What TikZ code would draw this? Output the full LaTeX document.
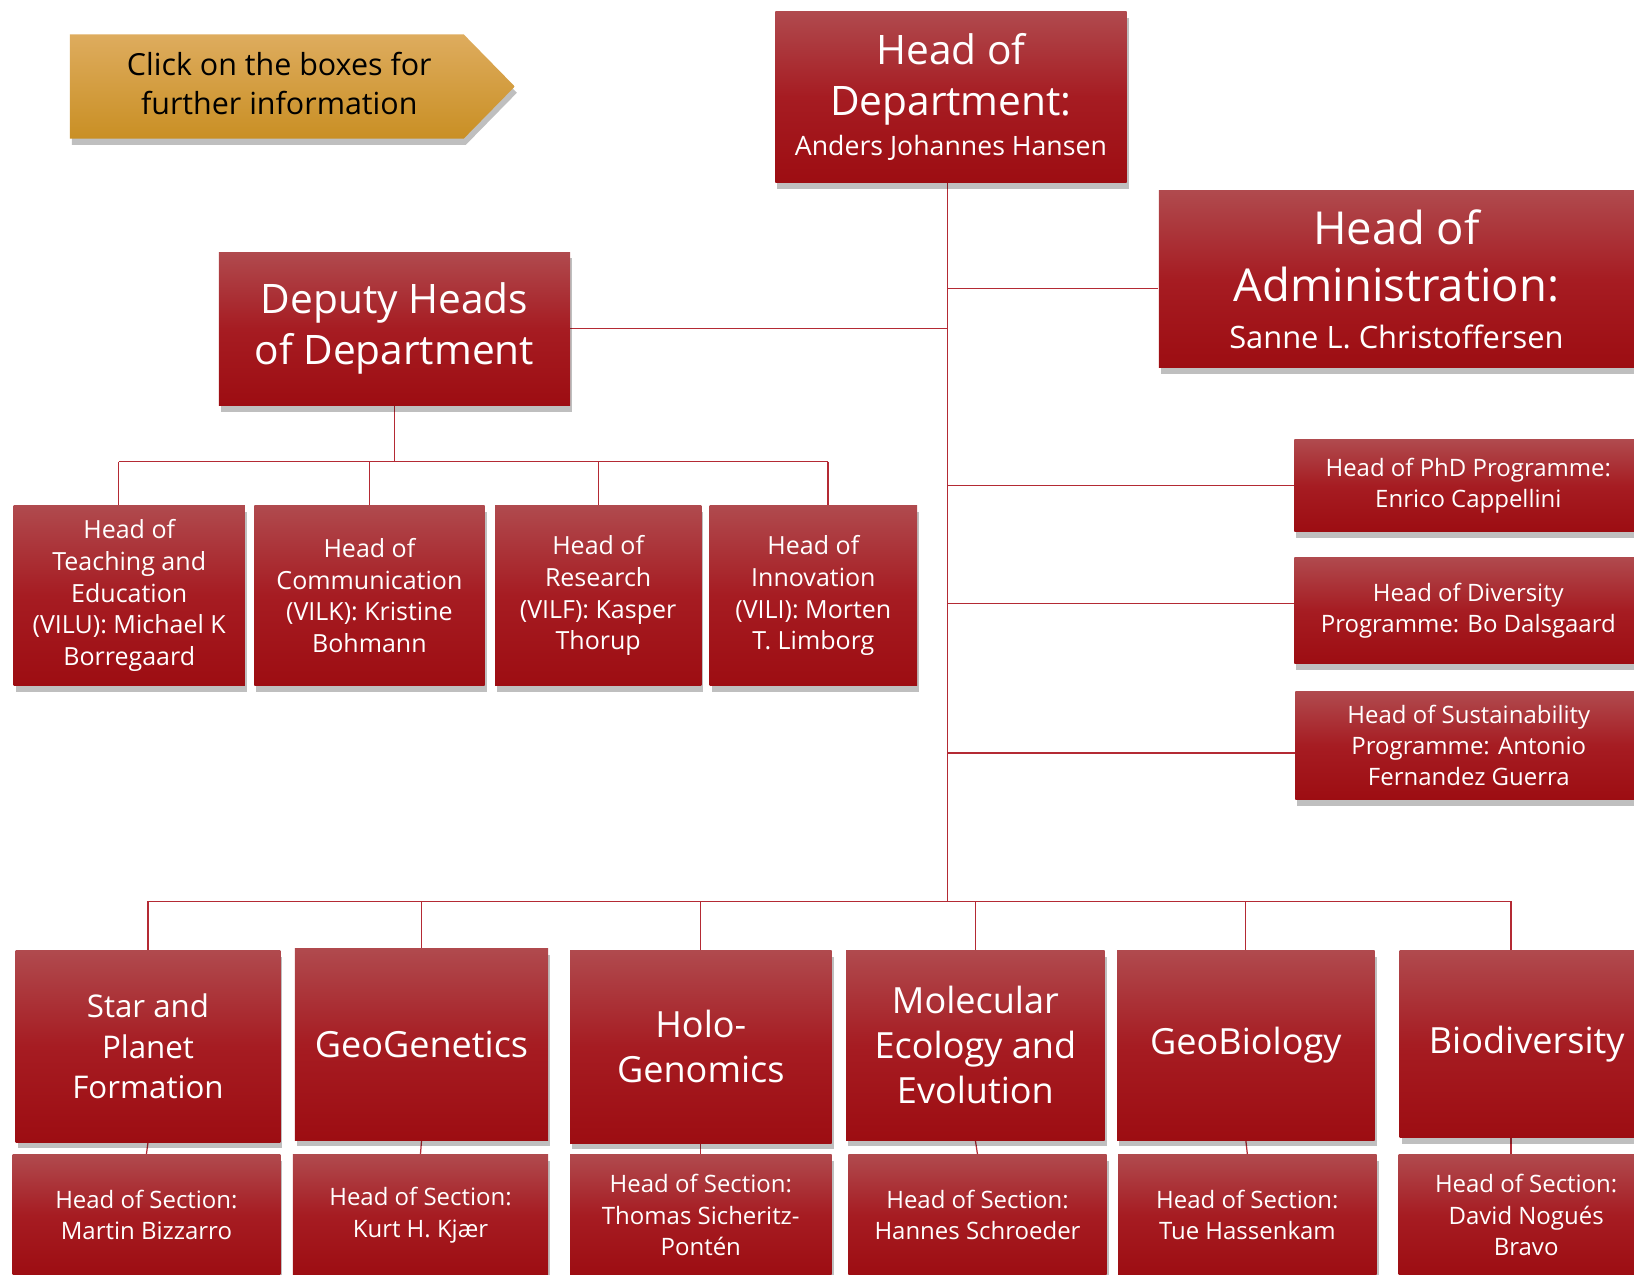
\documentclass[tikz,border=0pt]{standalone}
\usepackage{fontspec}
\setmainfont{Open Sans}
\usetikzlibrary{shadows}
\definecolor{rtop}{RGB}{176,74,78}
\definecolor{rmid}{RGB}{166,28,34}
\definecolor{rbot}{RGB}{157,13,18}
\definecolor{gtop}{RGB}{222,172,94}
\definecolor{gbot}{RGB}{201,143,36}
\definecolor{lnk}{RGB}{180,42,52}
\pgfdeclarelayer{background}
\pgfsetlayers{background,main}
\newcommand\fs[2]{\fontsize{#1}{#2}\selectfont}
\begin{document}
\begin{tikzpicture}[x=0.5pt,y=-0.5pt,
  rbox/.style={inner sep=0pt, top color=rtop, bottom color=rbot, middle color=rmid,
    text=white, align=center,
    drop shadow={shadow xshift=1pt, shadow yshift=-3pt, opacity=0.25, fill=black}},
  bx/.style 2 args={minimum width=#1, minimum height=#2},
  gold/.style={top color=gtop, bottom color=gbot,
    drop shadow={shadow xshift=1pt, shadow yshift=-3pt, opacity=0.25, fill=black}},
  link/.style={draw=lnk, line width=0.6pt},
  big/.style={font=\fs{19.5}{24.5}},
  mid/.style={font=\fs{12}{15.25}},
  sec/.style={font=\fs{17.3}{21.5}},
  small/.style={font=\fs{11.5}{15}},
]
\useasboundingbox (0,0) rectangle (1568,1223);

% note arrow
\path[gold] (67,33) -- (445,33) -- (494,83) -- (445,133) -- (67,133) -- cycle;
\node[align=center, font=\fs{14.6}{18.5}] (note) at (268,80) {Click on the boxes for\\further information};

% top level
\node[rbox, bx={168.5pt}{82pt}, big] (hod) at (912.5,93)
  {Head of\\Department:\\[-5pt]{\fs{12.8}{16}Anders Johannes Hansen}};
\node[rbox, bx={228pt}{85pt}, font=\fs{21.8}{27.5}] (adm) at (1340,268)
  {Head of\\Administration:\\[-5pt]{\fs{14.8}{18}Sanne L. Christoffersen}};
\node[rbox, bx={168.5pt}{73.5pt}, big] (dep) at (378.5,315.5) {Deputy Heads\\of Department};

% deputies
\node[rbox, bx={111pt}{86.5pt}, mid] (tea) at (124,571.5) {Head of\\Teaching and\\Education\\(VILU): Michael K\\Borregaard};
\node[rbox, bx={110.5pt}{86.5pt}, mid] (com) at (354.5,571.5) {Head of\\Communication\\(VILK): Kristine\\Bohmann};
\node[rbox, bx={99pt}{86.5pt}, mid] (res) at (574,571.5) {Head of\\Research\\(VILF): Kasper\\Thorup};
\node[rbox, bx={99.5pt}{86.5pt}, mid] (inn) at (780.5,571.5) {Head of\\Innovation\\(VILI): Morten\\T. Limborg};

% programmes
\node[rbox, bx={167pt}{44pt}, small] (phd) at (1409,466) {Head of PhD Programme:\\Enrico Cappellini};
\node[rbox, bx={167pt}{51pt}, small] (div) at (1409,586) {Head of Diversity\\Programme: Bo Dalsgaard};
\node[rbox, bx={166.5pt}{51.5pt}, small] (sus) at (1409.5,715.5) {Head of Sustainability\\Programme: Antonio\\Fernandez Guerra};

% sections
\node[rbox, bx={127pt}{92pt}, font=\fs{15}{19.25}] (star) at (142,1004) {Star and\\Planet\\Formation};
\node[rbox, bx={121.5pt}{92pt}, sec] (gen) at (404.5,1002) {GeoGenetics};
\node[rbox, bx={125.5pt}{92.5pt}, sec] (holo) at (672.5,1004.5) {Holo-\\Genomics};
\node[rbox, bx={124pt}{91pt}, sec] (mol) at (936,1003) {Molecular\\Ecology and\\Evolution};
\node[rbox, bx={123.5pt}{91pt}, sec] (gbio) at (1195.5,1003) {GeoBiology};
\node[rbox, bx={122pt}{90pt}, sec] (bio) at (1465,1002) {Biodiversity};

\node[rbox, bx={128.5pt}{58pt}, small] (s1) at (140.5,1166) {Head of Section:\\Martin Bizzarro};
\node[rbox, bx={122.5pt}{58pt}, small] (s2) at (403.5,1166) {Head of Section:\\Kurt H. Kjær};
\node[rbox, bx={125.5pt}{58pt}, small] (s3) at (672.5,1166) {Head of Section:\\Thomas Sicheritz-\\Pontén};
\node[rbox, bx={124pt}{58pt}, small] (s4) at (938,1166) {Head of Section:\\Hannes Schroeder};
\node[rbox, bx={124pt}{58pt}, small] (s5) at (1197,1166) {Head of Section:\\Tue Hassenkam};
\node[rbox, bx={122.5pt}{58pt}, small] (s6) at (1464.5,1166) {Head of Section:\\David Nogués\\Bravo};

% connectors
\coordinate (busy) at (0,865);
\coordinate (dbusy) at (0,443);
\coordinate (hodb) at ([xshift=-1.75pt]hod.south);
\coordinate (admw) at ([yshift=-4.5pt]adm.west);
\coordinate (divw) at ([yshift=3.5pt]div.west);
\coordinate (susw) at ([yshift=-3.5pt]sus.west);
\coordinate (teatop) at ([xshift=-5pt]tea.north);
\coordinate (inntop) at ([xshift=7pt]inn.north);
\coordinate (biotop) at ([xshift=-7.5pt]bio.north);
\begin{pgfonlayer}{background}
\draw[link] (hodb) -- (hodb |- busy);
\draw[link] (hodb |- admw) -- (admw);
\draw[link] (dep.east) -- (hodb |- dep.east);
\draw[link] (hodb |- phd.west) -- (phd.west);
\draw[link] (hodb |- divw) -- (divw);
\draw[link] (hodb |- susw) -- (susw);
% deputies
\draw[link] (dep.south) -- (dep.south |- dbusy);
\draw[link] (teatop |- dbusy) -- (inntop |- dbusy);
\draw[link] (teatop |- dbusy) -- (teatop);
\draw[link] (com.north |- dbusy) -- (com.north);
\draw[link] (res.north |- dbusy) -- (res.north);
\draw[link] (inntop |- dbusy) -- (inntop);
% sections
\draw[link] (star.north |- busy) -- (biotop |- busy);
\draw[link] (star.north |- busy) -- (star.north);
\draw[link] (gen.north |- busy) -- (gen.north);
\draw[link] (holo.north |- busy) -- (holo.north);
\draw[link] (mol.north |- busy) -- (mol.north);
\draw[link] (gbio.north |- busy) -- (gbio.north);
\draw[link] (biotop |- busy) -- (biotop);
\draw[link] (star.south) -- (s1.north);
\draw[link] (gen.south) -- (s2.north);
\draw[link] (holo.south) -- (s3.north);
\draw[link] (mol.south) -- (s4.north);
\draw[link] (gbio.south) -- (s5.north);
\draw[link] (biotop |- bio.south) -- (biotop |- s6.north);
\end{pgfonlayer}
\end{tikzpicture}
\end{document}
